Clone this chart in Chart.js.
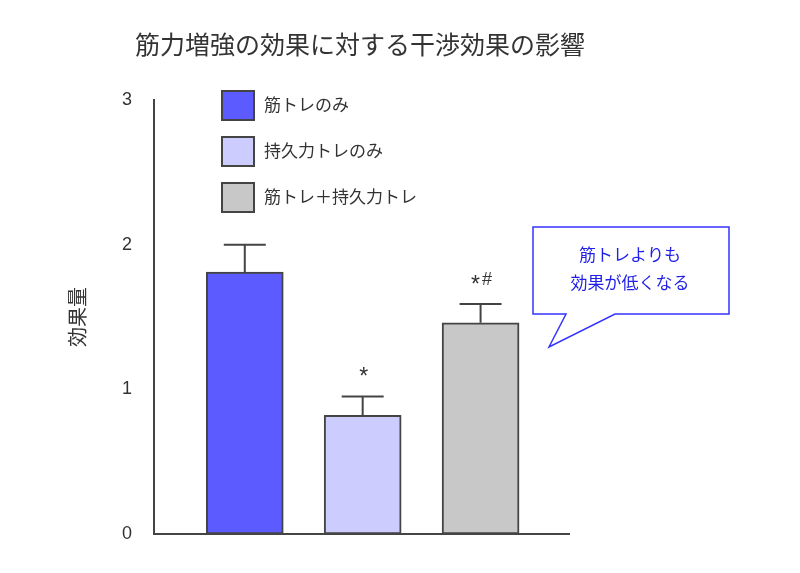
<!DOCTYPE html>
<html>
<head>
<meta charset="utf-8">
<script src="https://cdn.jsdelivr.net/npm/chart.js@4/dist/chart.umd.min.js"></script>
<style>
  html, body { margin: 0; padding: 0; background: #fff; }
  #wrap { width: 800px; height: 573px; }
</style>
</head>
<body>
<div id="wrap"><canvas id="effectChart"></canvas></div>
<script>
// データ
const groups = ['筋トレのみ', '持久力トレのみ', '筋トレ＋持久力トレ'];
const groupPos = [1, 2, 3];
const means = [1.81, 0.82, 1.46];
const errors = [0.19, 0.13, 0.13];
const marks = ['', '*', '*#'];
const yTicks = [0, 1, 2, 3];
const calloutLines = ['筋トレよりも', '効果が低くなる'];

const fillColors = ['#5b5bff', '#ccccff', '#c8c8c8'];
const lineColor = '#444';
const textColor = '#333';
const fontFamily = '"Liberation Sans", "Noto Sans CJK JP", sans-serif';

// 記号1文字ずつ描く（* は中央寄せ）
function drawMark(ctx, text, cx, cy) {
    const chars = text.split('');
    const fonts = chars.map(c => (c === '*' ? 23 : 18));
    const widths = chars.map((c, k) => {
        ctx.font = fonts[k] + 'px ' + fontFamily;
        return ctx.measureText(c).width;
    });
    const gap = 2;
    const total = widths.reduce((a, b) => a + b, 0) + gap * (chars.length - 1);
    let x = cx - total / 2;
    chars.forEach((c, k) => {
        const size = fonts[k];
        ctx.font = size + 'px ' + fontFamily;
        ctx.textAlign = 'left';
        ctx.textBaseline = 'alphabetic';
        const base = c === '*' ? cy + 0.58 * size : cy + 0.36 * size;
        ctx.fillText(c, x, base);
        x += widths[k] + gap;
    });
}

// エラーバーと有意差マーク
const errorBarPlugin = {
    id: 'errorBars',
    afterDatasetsDraw(chart) {
        const ctx = chart.ctx;
        const yScale = chart.scales.y;
        ctx.save();
        ctx.strokeStyle = lineColor;
        ctx.lineWidth = 2;
        chart.data.datasets.forEach((ds, i) => {
            const bar = chart.getDatasetMeta(i).data[0];
            if (!bar) return;
            const yTop = yScale.getPixelForValue(means[i] + errors[i]);
            ctx.beginPath();
            ctx.moveTo(bar.x, bar.y);
            ctx.lineTo(bar.x, yTop);
            ctx.moveTo(bar.x - 21, yTop);
            ctx.lineTo(bar.x + 21, yTop);
            ctx.stroke();
            if (marks[i]) {
                ctx.fillStyle = textColor;
                drawMark(ctx, marks[i], bar.x + 1, yTop - 25.5);
            }
        });
        ctx.restore();
    }
};

// 凡例（グラフ内）
const legendPlugin = {
    id: 'boxLegend',
    afterDraw(chart) {
        const ctx = chart.ctx;
        ctx.save();
        chart.data.datasets.forEach((ds, i) => {
            const top = 91 + i * 46;
            ctx.fillStyle = ds.backgroundColor;
            ctx.fillRect(222, top, 32, 29);
            ctx.strokeStyle = lineColor;
            ctx.lineWidth = 2;
            ctx.strokeRect(222, top, 32, 29);
            ctx.fillStyle = textColor;
            ctx.font = '17px ' + fontFamily;
            ctx.textAlign = 'left';
            ctx.textBaseline = 'middle';
            ctx.fillText(ds.label, 264, top + 15);
        });
        ctx.restore();
    }
};

// 吹き出し
const calloutPlugin = {
    id: 'callout',
    afterDraw(chart) {
        const ctx = chart.ctx;
        ctx.save();
        ctx.beginPath();
        ctx.moveTo(533, 227);
        ctx.lineTo(729, 227);
        ctx.lineTo(729, 314);
        ctx.lineTo(615, 314);
        ctx.lineTo(549, 347);
        ctx.lineTo(566, 314);
        ctx.lineTo(533, 314);
        ctx.closePath();
        ctx.fillStyle = '#fff';
        ctx.fill();
        ctx.strokeStyle = '#3535ff';
        ctx.lineWidth = 1.5;
        ctx.stroke();
        ctx.fillStyle = '#1f1fe8';
        ctx.font = '17px ' + fontFamily;
        ctx.textAlign = 'center';
        ctx.textBaseline = 'middle';
        calloutLines.forEach((t, i) => ctx.fillText(t, 630, 256 + i * 28));
        ctx.restore();
    }
};

const datasets = groups.map((g, i) => ({
    label: g,
    data: [{ x: groupPos[i], y: means[i] }],
    backgroundColor: fillColors[i],
    borderColor: lineColor,
    borderWidth: 2,
    borderSkipped: false,
    barThickness: 77,
    grouped: false
}));

const config = {
    type: 'bar',
    data: { datasets: datasets },
    options: {
        responsive: true,
        maintainAspectRatio: false,
        animation: false,
        layout: {
            padding: { left: 0, right: 80, top: 0, bottom: 39 }
        },
        plugins: {
            legend: { display: false },
            tooltip: { enabled: false },
            title: {
                display: true,
                text: '筋力増強の効果に対する干渉効果の影響',
                color: textColor,
                font: { size: 25, weight: 'normal', family: fontFamily },
                padding: { top: 32, bottom: 38 }
            }
        },
        scales: {
            x: {
                type: 'linear',
                offset: false,
                min: 0.23,
                max: 3.75,
                grid: { display: false, drawTicks: false },
                ticks: { display: false },
                border: { display: true, color: lineColor, width: 2 }
            },
            y: {
                min: 0,
                max: 3,
                afterBuildTicks(scale) {
                    scale.ticks = yTicks.map(v => ({ value: v }));
                },
                afterFit(scale) {
                    scale.width = 154;
                },
                grid: { display: false, drawTicks: false },
                border: { display: true, color: lineColor, width: 2 },
                ticks: {
                    color: textColor,
                    padding: 22,
                    font: { size: 18, family: fontFamily }
                },
                title: {
                    display: true,
                    text: '効果量',
                    color: textColor,
                    font: { size: 20, family: fontFamily },
                    padding: { top: 67 }
                }
            },
            // 右側の余白（吹き出し用）
            ySpace: {
                position: 'right',
                min: 0,
                max: 3,
                afterFit(scale) {
                    scale.width = 151;
                },
                grid: { display: false, drawTicks: false },
                border: { display: false },
                ticks: { display: false }
            }
        }
    },
    plugins: [errorBarPlugin, legendPlugin, calloutPlugin]
};

const effectCtx = document.getElementById('effectChart').getContext('2d');
const effectChart = new Chart(effectCtx, config);
</script>
</body>
</html>
